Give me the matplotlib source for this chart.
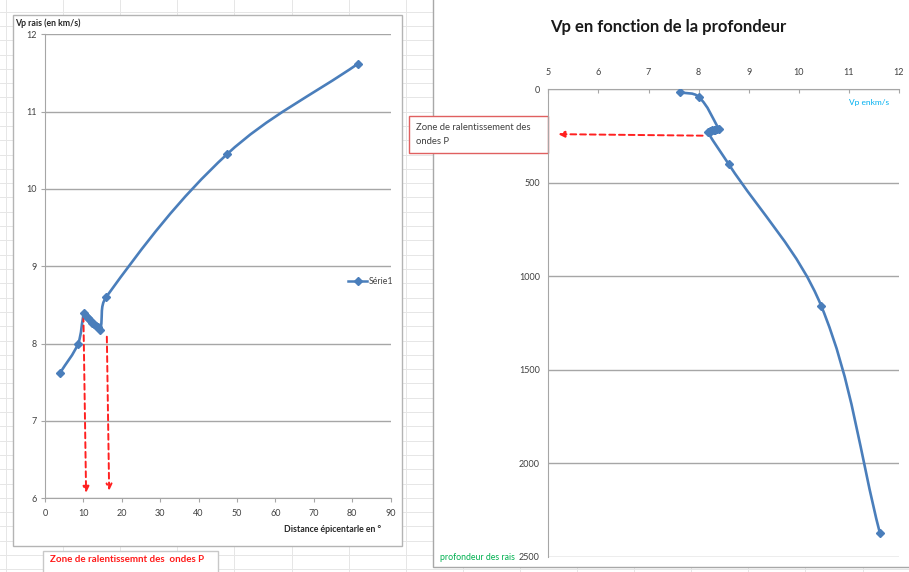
import numpy as np
import matplotlib
matplotlib.use("Agg")
import matplotlib.pyplot as plt
from matplotlib.path import Path
from matplotlib.patches import PathPatch, Rectangle

plt.rcParams['font.family'] = ['Lato', 'DejaVu Sans']

# Vp of the rays (km/s), shared by both charts
vp = [7.62, 8.00, 8.40, 8.36, 8.33, 8.30, 8.27, 8.25, 8.23, 8.21, 8.18, 8.60, 10.45, 11.62]
# epicentral distance (degrees)
distance = [3.9, 8.6, 10.2, 10.8, 11.3, 11.8, 12.3, 12.8, 13.3, 13.8, 14.4, 15.9, 47.4, 81.5]
# depth reached by the rays (km)
depth = [15, 40, 212, 214, 216, 218, 220, 222, 224, 226, 228, 400, 1160, 2375]

left_xticks = [0, 10, 20, 30, 40, 50, 60, 70, 80, 90]
left_yticks = [6, 7, 8, 9, 10, 11, 12]
right_xticks = [5, 6, 7, 8, 9, 10, 11, 12]
right_yticks = [0, 500, 1000, 1500, 2000, 2500]

BLUE = '#4A7EBB'
GRID = '#a6a6a6'
LABEL = '#404040'
W, H = 909, 572


def smooth_line(ax, xs, ys, tension=0.35, **kw):
    # smoothed line like a spreadsheet chart: cubic Bezier between points,
    # tangents from the neighbours, handle length tied to the segment length
    pts = ax.transData.transform(np.column_stack([xs, ys]))
    ext = np.vstack([pts[:1], pts, pts[-1:]])
    verts = [pts[0]]
    codes = [Path.MOVETO]
    for i in range(len(pts) - 1):
        p0, p1, p2, p3 = ext[i], ext[i + 1], ext[i + 2], ext[i + 3]
        d = np.hypot(*(p2 - p1))
        t1 = (p2 - p0) / max(np.hypot(*(p2 - p0)), 1e-9)
        t2 = (p3 - p1) / max(np.hypot(*(p3 - p1)), 1e-9)
        verts += [p1 + t1 * d * tension, p2 - t2 * d * tension, p2]
        codes += [Path.CURVE4] * 3
    verts = ax.transData.inverted().transform(np.array(verts))
    ax.add_patch(PathPatch(Path(verts, codes), fill=False, **kw))


fig = plt.figure(figsize=(W / 100, H / 100), dpi=100)
fig.patch.set_facecolor('white')

# sheet background in pixel coordinates
bg = fig.add_axes([0, 0, 1, 1])
bg.set_xlim(0, W)
bg.set_ylim(H, 0)
bg.axis('off')
for y in np.arange(11.6, H, 14.3):
    bg.plot([0, W], [y, y], color='#e6e6e6', lw=0.7, zorder=0)
for x in np.arange(6, W, 57.1):
    bg.plot([x, x], [0, H], color='#e6e6e6', lw=0.7, zorder=0)
bg.add_patch(Rectangle((12.5, 14.5), 389.5, 531, facecolor='white',
                       edgecolor='#b4b4b4', lw=1, zorder=1))
bg.add_patch(Rectangle((432.7, -5), 490, 572, facecolor='white',
                       edgecolor='#a8a8a8', lw=1, zorder=1))

# left chart labels and legend
bg.text(15, 23.5, 'Vp rais (en km/s)', fontsize=6.3, fontweight='bold',
        color='#262626', va='center', zorder=2)
bg.text(381, 530, 'Distance épicentarle en °', fontsize=6.3, fontweight='bold',
        color='#262626', va='center', ha='right', zorder=2)
bg.plot([348, 367], [281, 281], color=BLUE, lw=1.8, zorder=2)
bg.plot([357.5], [281], marker='D', ms=4, color=BLUE, zorder=3)
bg.text(369, 281, 'Série1', fontsize=6.3, color=LABEL, va='center', zorder=2)

# note under the left chart
bg.add_patch(Rectangle((43, 551), 175, 30, facecolor='white',
                       edgecolor='#c8c8c8', lw=1, zorder=2))
bg.text(50, 559, 'Zone de ralentissemnt des  ondes P', fontsize=7,
        fontweight='bold', color='#ff1a1a', va='center', zorder=3)

# right chart title, labels and note box
bg.text(668.7, 27, 'Vp en fonction de la profondeur', fontsize=12,
        fontweight='bold', color='#1a1a1a', ha='center', va='center', zorder=2)
bg.text(440, 557, 'profondeur des rais', fontsize=6.3, color='#00B050',
        va='center', zorder=2)
bg.add_patch(Rectangle((409, 116), 139, 37, facecolor='white',
                       edgecolor='#e06060', lw=1, zorder=2))
bg.text(416, 127, 'Zone de ralentissement des', fontsize=6.8, color=LABEL,
        va='center', zorder=3)
bg.text(416, 141, 'ondes P', fontsize=6.8, color=LABEL, va='center', zorder=3)
bg.text(869, 102, 'Vp enkm/s', fontsize=6, color='#00B0F0',
        ha='center', va='center', zorder=2)

# left chart: Vp versus epicentral distance
axL = fig.add_axes([45 / W, 1 - 498.3 / H, 345.7 / W, 464 / H])
axL.patch.set_visible(False)
axL.set_xlim(0, 90)
axL.set_ylim(6, 12)
axL.set_xticks(left_xticks)
axL.set_yticks(left_yticks)
axL.grid(axis='y', color=GRID, lw=1)
axL.set_axisbelow(True)
for s in ['top', 'right']:
    axL.spines[s].set_visible(False)
for s in ['left', 'bottom']:
    axL.spines[s].set_color(GRID)
axL.tick_params(direction='out', length=3, color=GRID, labelsize=6.5,
                labelcolor=LABEL)
axL.tick_params(axis='x', pad=5)
axL.tick_params(axis='y', pad=3)
smooth_line(axL, distance, vp, color=BLUE, lw=1.9, zorder=3)
axL.plot(distance, vp, ls='none', marker='D', ms=4, color=BLUE, zorder=4)

dash = (0, (3, 2))
axL.annotate('', xy=(10.7, 6.07), xytext=(10.0, 8.36),
             arrowprops=dict(arrowstyle='-|>', ls=dash, color='#ff2020',
                             lw=1.4, mutation_scale=9, shrinkA=0, shrinkB=0))
axL.annotate('', xy=(16.7, 6.1), xytext=(16.1, 8.09),
             arrowprops=dict(arrowstyle='->', ls=dash, color='#ff2020',
                             lw=1.4, mutation_scale=9, shrinkA=0, shrinkB=0))

# right chart: Vp versus depth, depth axis downwards
axR = fig.add_axes([548.3 / W, 1 - 556.7 / H, 350.7 / W, 467.4 / H])
axR.patch.set_visible(False)
axR.set_xlim(5, 12)
axR.set_ylim(2500, 0)
axR.set_xticks(right_xticks)
axR.set_yticks(right_yticks)
axR.xaxis.tick_top()
axR.grid(axis='y', color=GRID, lw=1)
axR.set_axisbelow(True)
for s in ['bottom', 'right']:
    axR.spines[s].set_visible(False)
for s in ['left', 'top']:
    axR.spines[s].set_color(GRID)
axR.tick_params(axis='x', direction='in', length=3, color=GRID,
                labelsize=6.5, labelcolor=LABEL, pad=9)
axR.tick_params(axis='y', length=0, labelsize=6.5, labelcolor=LABEL, pad=6)
smooth_line(axR, vp, depth, color=BLUE, lw=1.9, zorder=3)
axR.plot(vp, depth, ls='none', marker='D', ms=4, color=BLUE, zorder=4)
axR.annotate('', xy=(5.2, 240), xytext=(8.08, 248),
             arrowprops=dict(arrowstyle='-|>', ls=dash, color='#ff2020',
                             lw=1.4, mutation_scale=9, shrinkA=0, shrinkB=0))

fig.savefig('out.png', dpi=100)
